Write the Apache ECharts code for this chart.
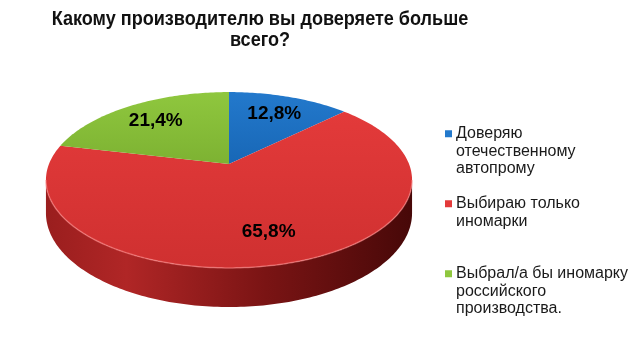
<!DOCTYPE html>
<html>
<head>
<meta charset="utf-8">
<script src="https://cdn.jsdelivr.net/npm/echarts@6/dist/echarts.min.js"></script>
<style>
  html, body { margin: 0; padding: 0; background: #fff; }
  #chart { width: 640px; height: 352px; }
</style>
</head>
<body>
<div id="chart"></div>
<script>
const categories = ['Доверяю отечественному автопрому', 'Выбираю только иномарки', 'Выбрал/а бы иномарку российского производства.']
const shares = [12.8, 65.8, 21.4]
const valueLabels = ['12,8%', '65,8%', '21,4%']
const legendLines = [
  ['Доверяю', 'отечественному', 'автопрому'],
  ['Выбираю только', 'иномарки', ' '],
  ['Выбрал/а бы иномарку', 'российского', 'производства.']
]
const titleText = 'Какому производителю вы доверяете больше\nвсего?'
const topColors = [['#2379cc', '#1867b6'], ['#e33a3a', '#cf3030'], ['#8fc73e', '#7db232']]

// pie placement (tilted disc with a little perspective)
const geo = { cx: 229, cy: 164, rx: 180, ry: 85, persp: 0.182, depth: 32 }
const labelRadius = 0.72

const total = shares.reduce((a, b) => a + b, 0)
const starts = []
let acc = 0
shares.forEach(v => { starts.push(acc / total * 360); acc += v })

// theta in degrees, clockwise from 12 o'clock; h = 0 top face, 1 bottom
const project = (theta, r, h) => {
  const a = theta * Math.PI / 180
  const X = r * Math.sin(a)
  const Y = r * Math.cos(a)
  const w = 1 + geo.persp * Y
  return [geo.cx + geo.rx * X / w, geo.cy + (-geo.ry * Y + geo.depth * h) / w]
}

const arc = (t0, t1, h) => {
  const pts = []
  const n = Math.max(2, Math.ceil(Math.abs(t1 - t0)))
  for (let i = 0; i <= n; i++) pts.push(project(t0 + (t1 - t0) * i / n, 1, h))
  return pts
}

// silhouette: the side wall is visible between these angles
const silA = Math.acos(-geo.persp) * 180 / Math.PI
const silB = 360 - silA

const renderWall = (params) => {
  const i = params.dataIndex
  const t0 = Math.max(starts[i], silA)
  const t1 = Math.min(starts[i] + shares[i] / total * 360, silB)
  if (t1 <= t0) return null
  const top = arc(t0, t1, 0)
  const bottom = arc(t0, t1, 1).reverse()
  return {
    type: 'group',
    children: [
      {
        type: 'polygon',
        z2: 0,
        shape: { points: top.concat(bottom) },
        style: {
          fill: new echarts.graphic.LinearGradient(0, 0, 1, 0, [
            { offset: 0, color: '#9a1e1e' },
            { offset: 0.22, color: '#b02626' },
            { offset: 0.6, color: '#7a1414' },
            { offset: 1, color: '#470808' }
          ])
        }
      },
      {
        type: 'polyline',
        z2: 5,
        shape: { points: top },
        style: { stroke: 'rgba(255,140,140,0.55)', lineWidth: 1.5, fill: null }
      }
    ]
  }
}

const makeTop = (idx) => (params) => {
  const t0 = starts[idx]
  const t1 = t0 + shares[idx] / total * 360
  const pts = [project(0, 0, 0)].concat(arc(t0, t1, 0))
  const lp = project((t0 + t1) / 2, labelRadius, 0)
  return {
    type: 'group',
    children: [
      {
        type: 'polygon',
        z2: 1,
        shape: { points: pts },
        style: {
          fill: new echarts.graphic.LinearGradient(0, 0, 0, 1, [
            { offset: 0, color: topColors[idx][0] },
            { offset: 1, color: topColors[idx][1] }
          ])
        }
      },
      {
        type: 'text',
        z2: 10,
        x: lp[0],
        y: lp[1],
        style: {
          text: valueLabels[idx],
          fill: '#000',
          font: 'bold 19px "Liberation Sans", Arial, sans-serif',
          align: 'center',
          verticalAlign: 'middle'
        }
      }
    ]
  }
}

const rich = { s: { width: 11, lineHeight: 17.5 } }
topColors.forEach((c, i) => {
  rich['m' + i] = { width: 7, height: 7, backgroundColor: c[0], lineHeight: 17.5 }
  rich['g' + i] = { width: 4, lineHeight: 17.5 }
})

const chart = echarts.init(document.getElementById('chart'))

chart.setOption({
  animation: false,
  graphic: [
    {
      // title, squeezed horizontally to look like a narrow bold face
      type: 'text',
      x: 260,
      y: 9,
      scaleX: 0.86,
      silent: true,
      style: {
        text: titleText,
        fill: '#111',
        font: 'bold 21px "Liberation Sans", Arial, sans-serif',
        lineHeight: 21,
        align: 'center',
        verticalAlign: 'top'
      }
    }
  ],
  legend: {
    orient: 'vertical',
    left: 435,
    top: 120,
    itemGap: 17.5,
    itemWidth: 0,
    itemHeight: 0,
    selectedMode: false,
    data: categories,
    formatter: (name) => {
      const i = categories.indexOf(name)
      const lines = legendLines[i]
      return '{m' + i + '|}{g' + i + '| }' + lines[0] + '\n' +
        lines.slice(1).map(l => '{s| }' + l).join('\n')
    },
    textStyle: {
      fontFamily: '"Liberation Sans", Arial, sans-serif',
      fontSize: 16,
      lineHeight: 17.5,
      color: '#1a1a1a',
      rich: rich
    }
  },
  series: [
    {
      type: 'custom',
      name: 'wall',
      coordinateSystem: 'none',
      silent: true,
      data: shares,
      renderItem: renderWall
    }
  ].concat(categories.map((name, i) => ({
    type: 'custom',
    name: name,
    coordinateSystem: 'none',
    silent: true,
    itemStyle: { color: topColors[i][0] },
    data: [shares[i]],
    renderItem: makeTop(i)
  })))
})
</script>
</body>
</html>
